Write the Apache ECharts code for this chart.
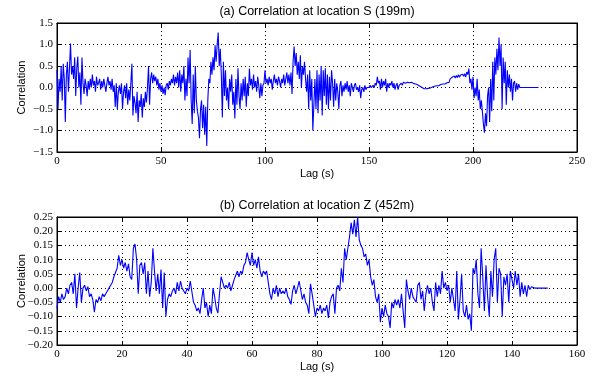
<!DOCTYPE html>
<html><head><meta charset="utf-8">
<script src="https://cdn.jsdelivr.net/npm/echarts@6/dist/echarts.min.js"></script>
<style>html,body{margin:0;padding:0;background:#fff}#c{width:594px;height:376px}</style>
</head><body><div id="c"></div>
<script>
// ---- Panel (a): location S, lag step 0.5 s ----
var topTitle = "(a) Correlation at location S (199m)";
var topLagStep = 0.5;
var topValues = [
 0.40,-0.50,0.20,-0.10,0.50,-0.30,0.55,0.20,-0.80,0.30,
 0.60,-0.10,0.45,1.02,0.30,0.50,0.20,0.70,-0.20,0.45,
 0.72,0.00,0.35,-0.40,0.70,0.10,-0.15,0.20,0.05,-0.20,
 0.15,-0.05,0.20,0.00,0.30,0.05,0.15,-0.10,0.25,0.05,
 0.10,0.20,-0.05,0.15,0.00,0.20,0.05,-0.10,0.10,0.25,
 0.05,0.15,-0.05,0.20,-0.10,0.05,-0.45,0.10,-0.50,-0.10,
 0.05,-0.15,0.10,-0.50,-0.10,0.05,-0.25,0.10,-0.40,-0.05,
 -0.30,0.10,0.55,-0.65,-0.20,-0.35,-0.60,-0.10,-0.80,-0.30,
 -0.45,-0.15,-0.70,-0.25,-0.45,-0.10,-0.35,0.00,0.50,-0.40,
 0.20,0.35,0.10,0.30,0.15,0.25,0.05,0.20,-0.05,0.10,
 -0.10,0.05,-0.15,0.00,-0.18,0.05,0.10,-0.05,0.15,0.05,
 0.20,0.10,0.30,0.05,0.25,0.10,0.35,0.00,0.40,-0.10,
 0.30,0.10,0.50,-0.30,0.20,-0.20,0.70,0.10,0.87,-0.30,
 -0.85,0.30,-0.60,0.50,-0.30,-0.55,-0.70,-1.18,-0.50,-0.30,
 -0.95,-0.40,-1.10,-0.45,-1.36,-0.30,0.20,0.10,0.60,0.30,
 0.70,0.40,0.98,0.60,1.00,1.28,0.50,0.90,0.30,-0.70,
 0.60,-0.20,0.40,-0.30,0.00,-0.50,0.20,-0.10,0.30,-0.40,
 -0.10,-0.72,0.20,-0.40,0.45,-0.20,-0.50,0.10,-0.30,0.20,
 -0.20,0.25,-0.45,0.10,-0.20,0.44,0.05,0.20,-0.05,0.30,
 0.00,0.15,-0.10,0.25,0.05,-0.25,0.10,-0.20,0.05,0.10,
 0.40,0.10,0.20,0.05,0.25,0.10,0.20,-0.05,0.15,0.30,
 0.10,0.20,0.05,0.25,0.15,0.00,0.20,0.10,0.30,0.05,
 0.20,0.35,0.10,0.30,0.05,0.35,-0.15,0.60,0.95,0.50,
 0.80,0.30,0.60,0.20,0.75,0.00,0.50,0.30,0.60,0.20,
 -0.10,0.30,-0.50,0.40,-0.30,0.20,-1.00,-0.40,0.20,-0.50,
 0.40,-0.60,0.30,-0.30,0.50,-0.65,0.40,-0.20,0.45,-0.40,
 0.30,-0.50,0.25,-0.30,0.40,0.10,-0.45,0.20,-0.30,0.10,
 -0.10,-0.50,0.05,0.15,-0.20,0.05,-0.10,0.10,-0.05,0.15,
 -0.10,0.05,-0.20,0.10,0.00,-0.10,0.05,0.10,-0.05,0.00,
 -0.10,0.05,-0.25,-0.05,0.00,-0.10,0.05,-0.05,0.00,0.02,
 0.00,0.05,0.00,0.03,0.05,0.00,0.10,0.05,0.25,0.10,
 0.15,-0.05,0.20,0.00,0.15,0.05,0.20,-0.10,0.10,0.00,
 0.10,0.05,0.15,0.00,0.10,-0.05,0.05,0.10,-0.05,0.05,
 0.08,0.10,0.05,0.12,0.08,0.10,0.06,0.12,0.09,0.11,
 0.08,0.12,0.10,0.09,0.11,0.08,0.10,0.06,0.05,0.03,
 0.02,0.00,-0.01,-0.03,-0.02,-0.03,-0.01,-0.02,0.00,-0.01,
 0.00,0.01,0.02,0.03,0.02,0.04,0.05,0.04,0.06,0.07,
 0.06,0.08,0.09,0.08,0.10,0.11,0.10,0.12,0.20,0.18,
 0.24,0.20,0.27,0.22,0.28,0.23,0.30,0.24,0.29,0.25,
 0.31,0.26,0.32,0.24,0.36,0.30,0.44,0.10,0.20,-0.05,
 0.25,-0.25,0.00,-0.20,0.20,-0.30,-0.05,-0.50,-0.30,-0.55,
 -0.85,-1.05,-0.60,-0.90,-0.20,0.00,-0.80,0.20,-0.55,0.60,
 -0.30,0.70,0.30,0.90,0.40,1.16,0.50,1.00,-0.50,0.70,
 0.10,0.60,-0.40,0.40,0.00,0.30,-0.10,0.20,-0.30,0.10,
 0.15,-0.10,0.10,-0.05,0.08,0.00,0.03,0.00,0.00,0.00,
 0.00,0.00,0.00,0.00,0.00,0.00,0.00,0.00,0.00,0.00,0.00,0.00,0.00,0.00
];
var topXTicks = [0, 50, 100, 150, 200, 250];
var topYTicks = [-1.5, -1.0, -0.5, 0.0, 0.5, 1.0, 1.5];

// ---- Panel (b): location Z, lag step 0.5 s ----
var botTitle = "(b) Correlation at location Z (452m)";
var botLagStep = 0.5;
var botValues = [
 -0.07,-0.03,-0.05,-0.02,-0.04,-0.03,0.00,-0.02,0.01,0.02,
 -0.02,0.05,-0.07,0.00,0.055,-0.05,0.00,0.01,-0.01,0.005,
 -0.03,-0.02,-0.04,-0.085,-0.04,-0.05,-0.03,-0.045,-0.02,-0.03,
 -0.02,-0.01,0.00,0.01,0.02,0.04,0.035,0.07,0.115,0.08,
 0.10,0.07,0.09,0.06,0.085,0.04,0.03,0.14,0.155,0.10,
 -0.02,0.08,0.09,0.05,0.09,-0.02,0.06,-0.03,0.02,0.14,
 0.06,-0.01,0.05,-0.02,0.065,-0.07,0.055,-0.10,-0.04,-0.02,
 -0.03,-0.01,0.00,-0.02,0.02,-0.01,0.025,0.00,-0.01,-0.02,
 0.00,-0.01,0.025,0.03,-0.05,-0.06,-0.08,-0.07,-0.09,-0.04,
 0.00,-0.07,-0.05,-0.10,-0.06,-0.09,0.00,-0.03,-0.07,-0.088,
 -0.02,0.04,0.02,0.00,0.01,0.00,0.02,-0.01,0.01,0.03,
 0.03,0.06,0.04,0.06,0.05,0.08,0.09,0.125,0.10,0.08,
 0.125,0.08,0.10,0.07,0.11,0.06,0.04,0.06,0.05,0.06,
 0.02,-0.02,-0.04,0.00,-0.02,0.01,-0.03,0.00,-0.02,-0.01,
 -0.02,0.00,-0.03,-0.04,-0.057,-0.01,0.01,-0.02,0.00,0.025,
 0.02,-0.04,-0.02,-0.05,-0.06,-0.09,0.015,-0.02,-0.06,-0.10,
 -0.07,-0.08,-0.06,-0.09,-0.07,-0.08,-0.06,-0.105,-0.05,-0.03,
 -0.02,-0.09,0.00,0.01,-0.01,0.07,0.02,0.14,0.10,0.14,
 0.18,0.23,0.19,0.24,0.18,0.25,0.17,0.15,0.14,0.11,
 0.12,0.08,0.10,0.04,0.01,0.03,-0.03,-0.05,-0.02,-0.12,
 -0.07,-0.10,-0.06,-0.09,-0.10,-0.14,-0.05,-0.07,-0.04,-0.06,
 -0.04,-0.07,-0.02,-0.08,-0.14,0.03,-0.01,-0.04,0.00,-0.03,
 -0.04,-0.05,0.01,0.02,-0.04,-0.01,-0.08,-0.02,0.01,-0.02,
 0.00,-0.05,-0.08,0.02,-0.03,0.01,-0.02,0.06,0.00,0.02,
 -0.01,0.01,-0.05,0.00,-0.04,-0.08,0.06,-0.11,-0.04,0.05,
 -0.08,-0.10,-0.06,-0.11,-0.09,-0.15,0.07,0.05,0.10,-0.02,
 -0.07,0.14,0.04,-0.08,0.08,-0.03,-0.10,0.06,-0.03,0.10,
 0.14,-0.05,0.07,0.05,-0.10,0.04,0.01,0.05,-0.05,0.06,
 0.03,0.00,0.06,0.01,0.05,-0.03,0.02,-0.02,0.01,-0.03,
 0.01,-0.005,0.005,0.00,0.00,0.00,0.00,0.00,0.00,0.00,
 0.00,0.00,0.00
];
var botXTicks = [0, 20, 40, 60, 80, 100, 120, 140, 160];
var botYTicks = [-0.20, -0.15, -0.10, -0.05, 0.00, 0.05, 0.10, 0.15, 0.20, 0.25];

function pairs(vals, step) { return vals.map(function (v, i) { return [i * step, v]; }); }
function minus(s) { return String(s).replace('-', '\u2212'); }

var serif = 'Liberation Serif';
var sans = 'Liberation Sans';
function xAx(grid, ticks, pos, showLab, name) {
  var iv = ticks[1] - ticks[0];
  return {
    type: 'value', gridIndex: grid, position: pos,
    min: ticks[0], max: ticks[ticks.length - 1], interval: iv,
    name: name || '', nameLocation: 'middle', nameGap: 16, nameMoveOverlap: false,
    nameTextStyle: { fontFamily: sans, fontSize: 11, color: '#000' },
    axisLine: { show: true, onZero: false, lineStyle: { color: '#000', width: 1 } },
    axisTick: { show: true, inside: true, length: 4, lineStyle: { color: '#000' } },
    axisLabel: { show: showLab, fontFamily: serif, fontSize: 11, color: '#000', margin: 4,
      showMinLabel: true, showMaxLabel: true, formatter: function (v) { return minus(v); } },
    splitLine: { show: showLab, lineStyle: { color: '#000', width: 1, type: [1, 3] } }
  };
}
function yAx(grid, ticks, pos, showLab, dec) {
  var iv = +(ticks[1] - ticks[0]).toFixed(4);
  return {
    type: 'value', gridIndex: grid, position: pos,
    min: ticks[0], max: ticks[ticks.length - 1], interval: iv,
    name: showLab ? 'Correlation' : '', nameLocation: 'middle', nameGap: 30, nameMoveOverlap: false,
    nameTextStyle: { fontFamily: sans, fontSize: 11, color: '#000' },
    axisLine: { show: true, onZero: false, lineStyle: { color: '#000', width: 1 } },
    axisTick: { show: true, inside: true, length: 4, lineStyle: { color: '#000' } },
    axisLabel: { show: showLab, fontFamily: serif, fontSize: 11, color: '#000', margin: 4,
      showMinLabel: true, showMaxLabel: true,
      formatter: function (v) { return minus((+v).toFixed(dec)); } },
    splitLine: { show: showLab, lineStyle: { color: '#000', width: 1, type: [1, 3] } }
  };
}

var chart = echarts.init(document.getElementById('c'), null, { renderer: 'canvas' });
chart.setOption({
  animation: false,
  backgroundColor: '#fff',
  title: [
    { text: topTitle, left: 317, top: 5, padding: 0, textAlign: 'center',
      textStyle: { fontFamily: sans, fontSize: 12.5, fontWeight: 'normal', color: '#000' } },
    { text: botTitle, left: 317, top: 199, padding: 0, textAlign: 'center',
      textStyle: { fontFamily: sans, fontSize: 12.5, fontWeight: 'normal', color: '#000' } }
  ],
  grid: [
    { left: 57, right: 17, top: 23, height: 129, show: true, borderColor: '#000', borderWidth: 1 },
    { left: 57, right: 17, top: 217, height: 128, show: true, borderColor: '#000', borderWidth: 1 }
  ],
  xAxis: [
    xAx(0, topXTicks, 'bottom', true, 'Lag (s)'),
    xAx(0, topXTicks, 'top', false),
    xAx(1, botXTicks, 'bottom', true, 'Lag (s)'),
    xAx(1, botXTicks, 'top', false)
  ],
  yAxis: [
    yAx(0, topYTicks, 'left', true, 1),
    yAx(0, topYTicks, 'right', false, 1),
    yAx(1, botYTicks, 'left', true, 2),
    yAx(1, botYTicks, 'right', false, 2)
  ],
  series: [
    { type: 'line', xAxisIndex: 0, yAxisIndex: 0, data: pairs(topValues, topLagStep),
      showSymbol: false, symbol: 'none', lineStyle: { color: '#0000ff', width: 1.1 }, clip: true },
    { type: 'line', xAxisIndex: 2, yAxisIndex: 2, data: pairs(botValues, botLagStep),
      showSymbol: false, symbol: 'none', lineStyle: { color: '#0000ff', width: 1.1 }, clip: true }
  ]
});
</script>
</body></html>
